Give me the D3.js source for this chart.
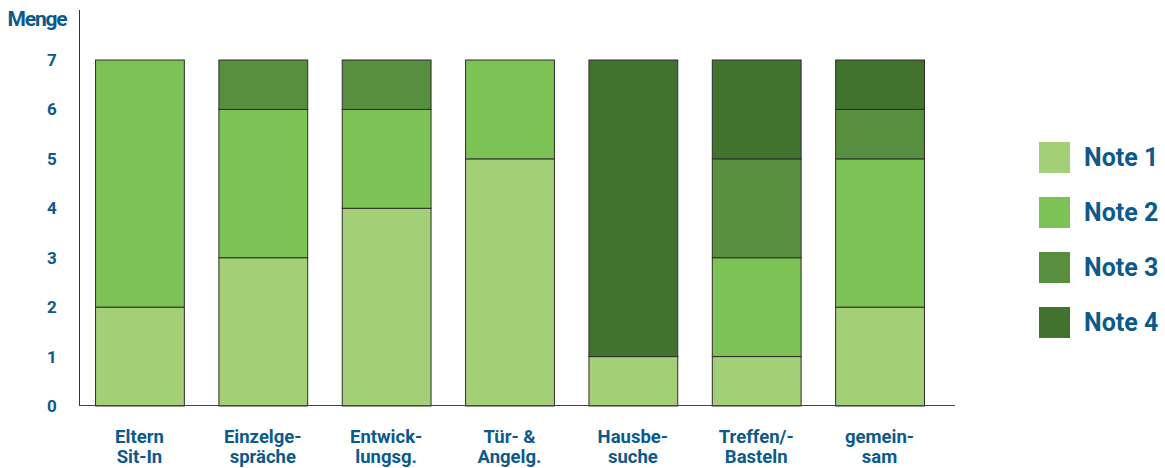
<!DOCTYPE html>
<html>
<head>
<meta charset="utf-8">
<script src="https://cdn.jsdelivr.net/npm/d3@7"></script>
<style>
  body { margin: 0; background: #fff; }
  text { font-family: Roboto, "Open Sans", sans-serif; font-weight: bold; fill: #0b5a8c; }
</style>
</head>
<body>
<svg id="chart"></svg>
<script>
const categories = [["Eltern", "Sit-In"], ["Einzelge-", "spräche"], ["Entwick-", "lungsg."], ["Tür- &", "Angelg."], ["Hausbe-", "suche"], ["Treffen/-", "Basteln"], ["gemein-", "sam"]];
const note1 = [2, 3, 4, 5, 1, 1, 2];
const note2 = [5, 3, 2, 2, 0, 2, 3];
const note3 = [0, 1, 1, 0, 0, 2, 1];
const note4 = [0, 0, 0, 0, 6, 2, 1];
const seriesNames = ["Note 1", "Note 2", "Note 3", "Note 4"];
const colors = ["#a3d077", "#7dc254", "#578f3e", "#41722e"];
const yTicks = [0, 1, 2, 3, 4, 5, 6, 7];

const width = 1165, height = 468;
const svg = d3.select("#chart").attr("width", width).attr("height", height);

const rows = categories.map((c, i) => ({ key: i, n1: note1[i], n2: note2[i], n3: note3[i], n4: note4[i] }));
const stack = d3.stack().keys(["n1", "n2", "n3", "n4"])(rows);

const x = d3.scaleBand().domain(d3.range(categories.length)).range([79, 940]).paddingInner(0.28).paddingOuter(0.13);
const y = d3.scaleLinear().domain([0, 7]).range([406, 60]);
const color = d3.scaleOrdinal().domain(["n1", "n2", "n3", "n4"]).range(colors);

// bars
svg.append("g")
  .selectAll("g")
  .data(stack)
  .join("g")
  .attr("fill", d => color(d.key))
  .selectAll("rect")
  .data(d => d.filter(s => s[1] - s[0] > 0))
  .join("rect")
  .attr("x", d => x(d.data.key) + 0.5)
  .attr("y", d => y(d[1]))
  .attr("width", x.bandwidth())
  .attr("height", d => y(d[0]) - y(d[1]))
  .attr("stroke", "#2e2e2e")
  .attr("stroke-width", 1);

// axes lines
svg.append("line").attr("x1", 79.5).attr("x2", 79.5).attr("y1", 10).attr("y2", 406)
  .attr("stroke", "#333").attr("stroke-width", 1);
svg.append("line").attr("x1", 79).attr("x2", 955).attr("y1", 405.5).attr("y2", 405.5)
  .attr("stroke", "#444").attr("stroke-width", 1.2);

// y tick labels
svg.append("g")
  .selectAll("text")
  .data(yTicks)
  .join("text")
  .attr("x", 52)
  .attr("y", d => y(d))
  .attr("dy", "0.35em")
  .attr("text-anchor", "middle")
  .attr("font-size", 17)
  .text(d => d);

svg.append("text").attr("x", 37).attr("y", 26).attr("text-anchor", "middle")
  .attr("font-size", 21).attr("letter-spacing", -1.2).text("Menge");

// category labels
const lab = svg.append("g")
  .selectAll("text")
  .data(categories)
  .join("text")
  .attr("text-anchor", "middle")
  .attr("font-size", 18.5)
  .attr("x", (d, i) => x(i) + x.bandwidth() / 2);
lab.append("tspan").attr("x", (d, i) => x(i) + x.bandwidth() / 2).attr("y", 443).text(d => d[0]);
lab.append("tspan").attr("x", (d, i) => x(i) + x.bandwidth() / 2).attr("y", 463).text(d => d[1]);

// legend
const legend = svg.append("g")
  .selectAll("g")
  .data(seriesNames)
  .join("g")
  .attr("transform", (d, i) => `translate(1039, ${142 + i * 55})`);
legend.append("rect").attr("width", 31).attr("height", 31).attr("fill", (d, i) => colors[i]);
legend.append("text").attr("x", 45).attr("y", 24).attr("font-size", 25).text(d => d);
</script>
</body>
</html>
